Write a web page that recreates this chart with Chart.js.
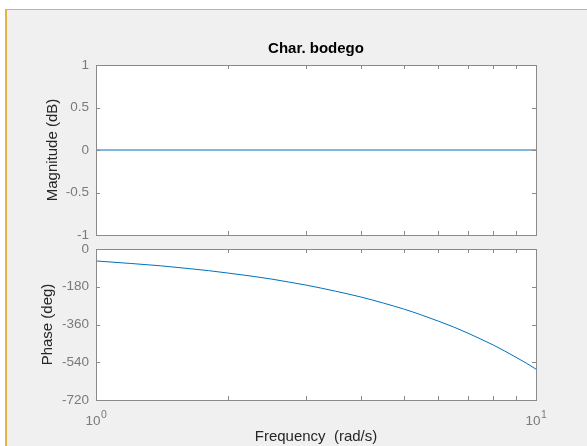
<!DOCTYPE html>
<html>
<head>
<meta charset="utf-8">
<script src="https://cdn.jsdelivr.net/npm/chart.js@4.4.1/dist/chart.umd.min.js"></script>
<style>
    body { margin: 0; background: #fff; width: 587px; height: 446px; overflow: hidden; font-family: 'Liberation Sans', Arial, sans-serif; }
    #frame { position: absolute; left: 5px; top: 9px; width: 582px; height: 437px; background: #f0f0f0; border-top: 1px solid #b4b4b4; border-left: 2px solid #e2b443; box-sizing: border-box; }
    canvas { position: absolute; left: 0; top: 0; }
</style>
</head>
<body>
<div id="frame"></div>
<canvas id="magChart" width="587" height="446"></canvas>
<canvas id="phaseChart" width="587" height="446"></canvas>
<script>
// ── Data ───────────────────────────────────
const magFreq = [1, 10];
const magnitude = [0, 0];

const phaseFreq = [1, 1.2, 1.4, 1.6, 1.8, 2, 2.25, 2.5, 2.75, 3, 3.5, 4, 4.5, 5, 5.5, 6, 6.5, 7, 7.5, 8, 8.5, 9, 9.5, 10];
const phase = [-57, -69, -80, -92, -103, -115, -129, -143, -158, -172, -201, -229, -258, -286, -315, -344, -372, -401, -430, -458, -487, -516, -544, -573];

const magTicks = [-1, -0.5, 0, 0.5, 1];
const phaseTicks = [-720, -540, -360, -180, 0];
const freqTicks = [1, 2, 3, 4, 5, 6, 7, 8, 9, 10];
const freqLabels = [{ value: 1, base: '10', exp: '0' }, { value: 10, base: '10', exp: '1' }];

const FONT = "'Liberation Sans', Arial, sans-serif";
const TICK_COLOR = '#7a7a7a';
const BOX_COLOR = '#8a8a8a';
const LINE_COLOR = '#0072bd';

// ── White axes background, box and inward ticks ──────────
const boxPlugin = {
    id: 'boxTicks',
    beforeDraw(chart) {
        const a = chart.chartArea;
        const ctx = chart.ctx;
        ctx.save();
        ctx.fillStyle = '#ffffff';
        ctx.fillRect(a.left, a.top, a.right - a.left, a.bottom - a.top);
        ctx.restore();
    },
    afterDraw(chart) {
        const a = chart.chartArea;
        const ctx = chart.ctx;
        const xs = chart.scales.x;
        const ys = chart.scales.y;
        const len = 4;
        ctx.save();
        ctx.strokeStyle = BOX_COLOR;
        ctx.lineWidth = 1;
        ctx.beginPath();
        freqTicks.forEach(v => {
            const px = Math.round(xs.getPixelForValue(v)) + 0.5;
            ctx.moveTo(px, a.top); ctx.lineTo(px, a.top + len);
            ctx.moveTo(px, a.bottom); ctx.lineTo(px, a.bottom - len);
        });
        ys.ticks.forEach(t => {
            const py = Math.round(ys.getPixelForValue(t.value)) + 0.5;
            ctx.moveTo(a.left, py); ctx.lineTo(a.left + len, py);
            ctx.moveTo(a.right, py); ctx.lineTo(a.right - len, py);
        });
        ctx.stroke();
        ctx.strokeRect(Math.round(a.left) + 0.5, Math.round(a.top) + 0.5,
            Math.round(a.right - a.left), Math.round(a.bottom - a.top));

        // x tick labels with superscript exponents
        if (chart.options.plugins.boxTicks && chart.options.plugins.boxTicks.xLabels) {
            ctx.fillStyle = TICK_COLOR;
            ctx.textBaseline = 'alphabetic';
            ctx.textAlign = 'left';
            freqLabels.forEach(l => {
                const px = xs.getPixelForValue(l.value);
                ctx.font = '13.5px ' + FONT;
                const wb = ctx.measureText(l.base).width;
                ctx.font = '10.5px ' + FONT;
                const we = ctx.measureText(l.exp).width;
                const x0 = px - (wb + we) / 2;
                ctx.font = '13.5px ' + FONT;
                ctx.fillText(l.base, x0, a.bottom + 25);
                ctx.font = '10.5px ' + FONT;
                ctx.fillText(l.exp, x0 + wb + 0.5, a.bottom + 18);
            });
        }
        ctx.restore();
    }
};

function yAxis(min, max, ticks, title, titlePad) {
    return {
        type: 'linear', min, max,
        afterBuildTicks: s => { s.ticks = ticks.map(v => ({ value: v })); },
        afterFit: s => { s.width = 96; },
        grid: { display: false, drawTicks: false },
        border: { display: false },
        ticks: { color: TICK_COLOR, font: { family: FONT, size: 13.5 }, padding: 7, callback: v => String(v) },
        title: { display: true, text: title, color: '#262626', font: { family: FONT, size: 15 }, padding: { top: titlePad, bottom: 0 } }
    };
}

const xLog = {
    type: 'logarithmic', min: 1, max: 10,
    grid: { display: false, drawTicks: false },
    border: { display: false },
    ticks: { display: false }
};

new Chart(document.getElementById('magChart'), {
    type: 'line',
    data: {
        datasets: [{ data: magFreq.map((f, i) => ({ x: f, y: magnitude[i] })), borderColor: LINE_COLOR, borderWidth: 1, pointRadius: 0, fill: false }]
    },
    options: {
        responsive: false, animation: false,
        layout: { padding: { left: 0, right: 51, top: 40, bottom: 211 } },
        plugins: {
            legend: { display: false }, tooltip: { enabled: false },
            title: { display: true, text: 'Char. bodego', fullSize: false, color: '#000', font: { family: FONT, size: 15, weight: 'bold' }, padding: { top: 0, bottom: 7 } }
        },
        scales: {
            x: Object.assign({}, xLog, { display: false }),
            y: yAxis(-1, 1, magTicks, 'Magnitude (dB)', 43.5)
        }
    },
    plugins: [boxPlugin]
});

new Chart(document.getElementById('phaseChart'), {
    type: 'line',
    data: {
        datasets: [{ data: phaseFreq.map((f, i) => ({ x: f, y: phase[i] })), borderColor: LINE_COLOR, borderWidth: 1, pointRadius: 0, fill: false, cubicInterpolationMode: 'monotone' }]
    },
    options: {
        responsive: false, animation: false,
        layout: { padding: { left: 0, right: 51, top: 249, bottom: 0 } },
        plugins: { legend: { display: false }, tooltip: { enabled: false }, boxTicks: { xLabels: true } },
        scales: {
            x: Object.assign({}, xLog, {
                title: { display: true, text: 'Frequency  (rad/s)', color: '#262626', font: { family: FONT, size: 15 }, padding: { top: 28, bottom: 0 } }
            }),
            y: yAxis(-720, 0, phaseTicks, 'Phase (deg)', 39)
        }
    },
    plugins: [boxPlugin]
});
</script>
</body>
</html>
